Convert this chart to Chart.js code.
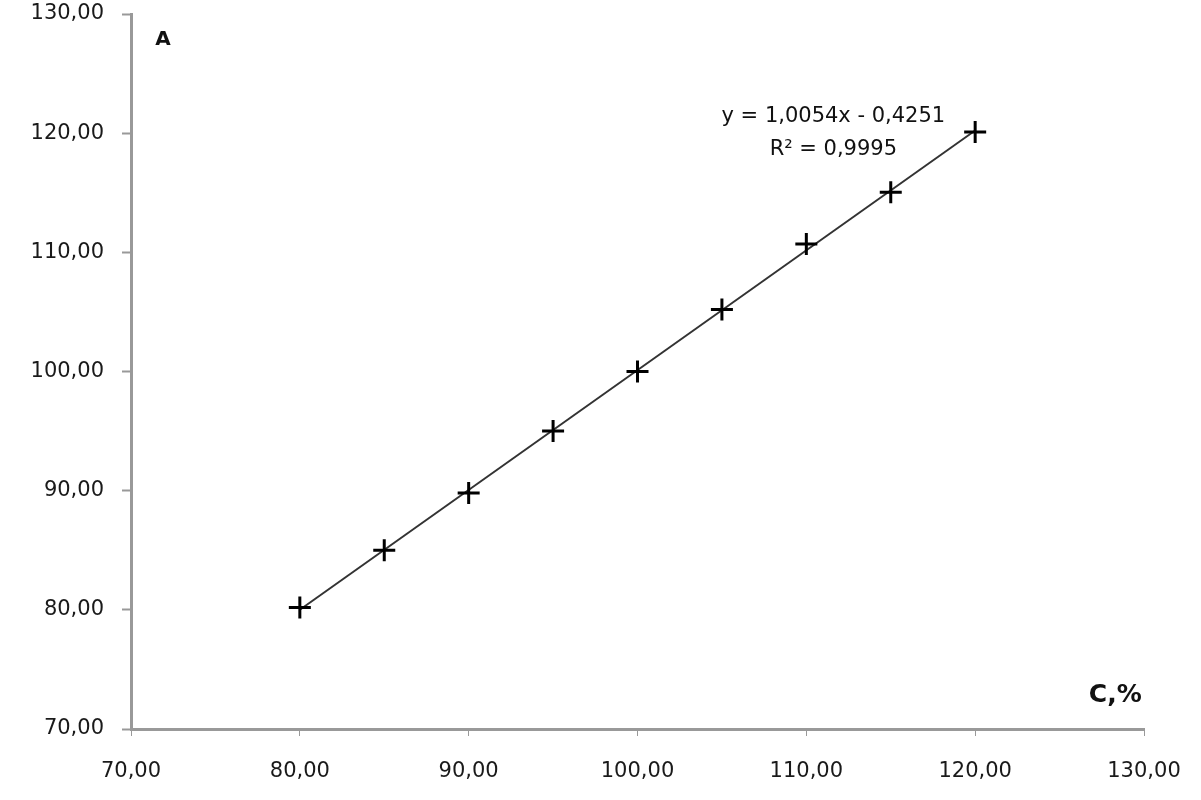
<!DOCTYPE html>
<html lang="ru">
<head>
    <meta charset="UTF-8">
    <title>A vs C,%</title>
    <script src="https://cdn.jsdelivr.net/npm/chart.js"></script>
    <style>
        html, body { margin: 0; padding: 0; background: #fff; }
        #chart { display: block; }
    </style>
</head>
<body>
    <canvas id="chart" width="1201" height="800"></canvas>
    <script>
        // concentration, % (x) and measured A (y)
        const concentration = [80, 85, 90, 95, 100, 105, 110, 115, 120];
        const measured = [80.2, 85.0, 89.8, 95.0, 100.0, 105.2, 110.7, 115.05, 120.1];

        // trend line ends
        const trendX = [80, 120];
        const trendY = [80.01, 120.22];

        const axisMin = 70, axisMax = 130, axisStep = 10;
        const equationText = "y = 1,0054x - 0,4251";
        const r2Text = "R² = 0,9995";

        const fmt = v => v.toFixed(2).replace(".", ",");
        const font = "'DejaVu Sans', sans-serif";

        // labels that sit inside the plot
        const notes = {
            id: "notes",
            afterDraw(chart) {
                const { ctx, scales: { x, y } } = chart;
                ctx.save();
                ctx.fillStyle = "#111";
                ctx.textBaseline = "middle";
                ctx.textAlign = "center";

                ctx.font = "bold 20px " + font;
                ctx.fillText("A", x.getPixelForValue(71.9), y.getPixelForValue(127.8));

                ctx.font = "bold 25px " + font;
                ctx.fillText("C,%", x.getPixelForValue(128.3), y.getPixelForValue(72.85));

                ctx.font = "21px " + font;
                ctx.fillText(equationText, x.getPixelForValue(111.6), y.getPixelForValue(121.36));
                ctx.fillText(r2Text, x.getPixelForValue(111.6), y.getPixelForValue(118.6));
                ctx.restore();
            }
        };

        const ctx = document.getElementById("chart").getContext("2d");
        new Chart(ctx, {
            type: "scatter",
            data: {
                datasets: [
                    {
                        label: "A",
                        data: concentration.map((c, i) => ({ x: c, y: measured[i] })),
                        pointStyle: "cross",
                        pointRadius: 11,
                        pointHoverRadius: 11,
                        borderColor: "#000",
                        backgroundColor: "#000",
                        pointBorderWidth: 3,
                        order: 1
                    },
                    {
                        label: "trend",
                        data: trendX.map((c, i) => ({ x: c, y: trendY[i] })),
                        showLine: true,
                        pointRadius: 0,
                        borderColor: "#333",
                        borderWidth: 2,
                        order: 2
                    }
                ]
            },
            options: {
                responsive: false,
                animation: false,
                layout: { padding: { top: 14, right: 57, left: 0, bottom: 0 } },
                plugins: {
                    legend: { display: false },
                    tooltip: { enabled: false }
                },
                scales: {
                    x: {
                        type: "linear",
                        min: axisMin, max: axisMax,
                        afterFit: s => {
                            s.height = 71;
                            s.paddingLeft = 0;
                            s.paddingRight = 0;
                        },
                        ticks: {
                            stepSize: axisStep,
                            callback: v => fmt(v),
                            color: "#1a1a1a",
                            font: { family: font, size: 21 },
                            padding: 23
                        },
                        grid: {
                            drawOnChartArea: false,
                            color: "#999",
                            tickLength: 7,
                            tickWidth: 1
                        },
                        border: { color: "#999", width: 3 }
                    },
                    y: {
                        type: "linear",
                        min: axisMin, max: axisMax,
                        afterFit: s => {
                            s.width = 131;
                            s.paddingTop = 0;
                            s.paddingBottom = 0;
                        },
                        ticks: {
                            stepSize: axisStep,
                            callback: v => fmt(v),
                            color: "#1a1a1a",
                            font: { family: font, size: 21 },
                            padding: 18
                        },
                        grid: {
                            drawOnChartArea: false,
                            color: "#999",
                            tickLength: 9,
                            tickWidth: 2
                        },
                        border: { color: "#999", width: 3 }
                    }
                }
            },
            plugins: [notes]
        });
    </script>
</body>
</html>
